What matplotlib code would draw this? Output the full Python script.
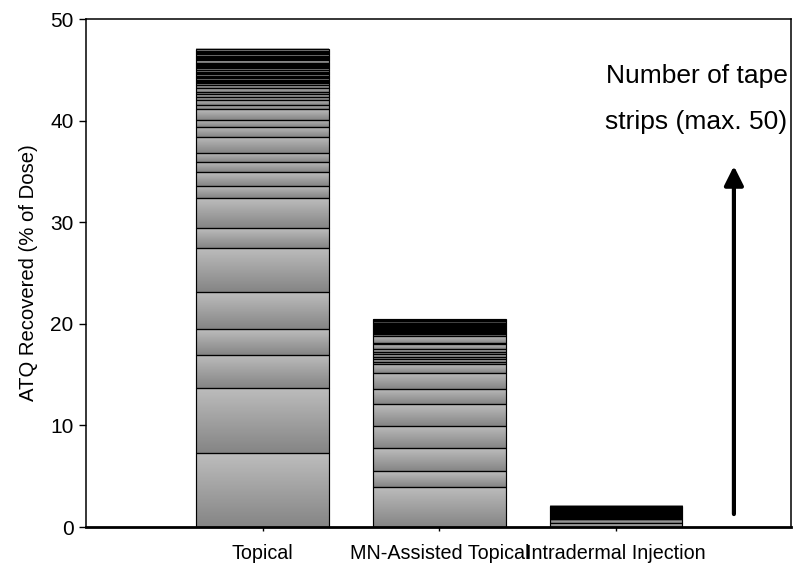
import numpy as np
import matplotlib.pyplot as plt
from matplotlib.colors import LinearSegmentedColormap

plt.rcParams['font.family'] = ['Liberation Sans', 'DejaVu Sans']

# Data: ATQ recovered per tape strip (% of dose), stacked from strip 1 upward
categories = ['Topical', 'MN-Assisted Topical', 'Intradermal Injection']

topical = [7.25, 6.4, 3.3, 2.55, 3.6, 4.4, 1.9, 2.95, 1.25, 1.3,
           1.0, 0.9, 1.6, 1.0, 0.7, 1.0, 0.4, 0.5, 0.35, 0.25,
           0.2, 0.4, 0.3, 0.17, 0.1, 0.12, 0.1, 0.2, 0.12, 0.1,
           0.15, 0.1, 0.12, 0.25, 0.1, 0.12, 0.1, 0.15, 0.12, 0.1,
           0.22, 0.12, 0.1, 0.12, 0.1, 0.15, 0.1, 0.12, 0.1, 0.2]

mn_topical = [3.97, 1.53, 2.25, 2.22, 2.1, 1.51, 1.61, 0.85, 0.23, 0.23,
              0.26, 0.24, 0.25, 0.25, 0.48, 0.16, 0.66, 0.2, 0.04, 0.04,
              0.04, 0.12, 0.04, 0.04, 0.04, 0.04, 0.04, 0.04, 0.04, 0.04,
              0.04, 0.04, 0.04, 0.04, 0.04, 0.04, 0.04, 0.04, 0.04, 0.04,
              0.04, 0.04, 0.04, 0.04, 0.12, 0.04, 0.04, 0.04, 0.04, 0.03]

intradermal = [0.35, 0.4] + [0.027] * 48

series = [topical, mn_topical, intradermal]
xpos = [1, 2, 3]

fig = plt.figure(figsize=(7.94, 5.66), dpi=100)
ax = fig.add_axes([0.1083, 0.0689, 0.8879, 0.8975])

cmap = LinearSegmentedColormap.from_list('bar_grad', ['#858585', '#bdbdbd'])
grad = np.linspace(0, 1, 64).reshape(-1, 1)
width = 0.75

for x, vals in zip(xpos, series):
    bottoms = np.concatenate([[0], np.cumsum(vals)[:-1]])
    for b, h in zip(bottoms, vals):
        ax.imshow(grad, extent=(x - width / 2, x + width / 2, b, b + h),
                  origin='lower', aspect='auto', cmap=cmap, vmin=0, vmax=1,
                  interpolation='bilinear', zorder=1)
    ax.bar([x] * len(vals), vals, bottom=bottoms, width=width,
           facecolor='none', edgecolor='black', linewidth=0.85, zorder=2)

ax.set_xlim(0, 3.99)
ax.set_ylim(0, 50)
ax.set_xticks(xpos)
ax.set_xticklabels(categories, fontsize=14.2)
ax.set_yticks(range(0, 51, 10))
ax.tick_params(axis='y', direction='out', length=5, width=1, labelsize=15, pad=4)
ax.tick_params(axis='x', direction='out', length=3, width=1, pad=9)
ax.set_ylabel('ATQ Recovered (% of Dose)', fontsize=14.6, labelpad=9)

for s in ['left', 'right', 'top']:
    ax.spines[s].set_linewidth(1.1)
ax.spines['bottom'].set_linewidth(2.0)

ax.annotate('', xy=(3.667, 35.8), xytext=(3.667, 1.0),
            arrowprops=dict(arrowstyle='-|>,head_length=0.5,head_width=0.25',
                            lw=3, color='black', mutation_scale=23),
            zorder=3)
ax.text(3.455, 44.4, 'Number of tape', fontsize=19, ha='center', va='center')
ax.text(3.455, 39.9, 'strips (max. 50)', fontsize=19, ha='center', va='center')

fig.savefig('out.png', dpi=100)
